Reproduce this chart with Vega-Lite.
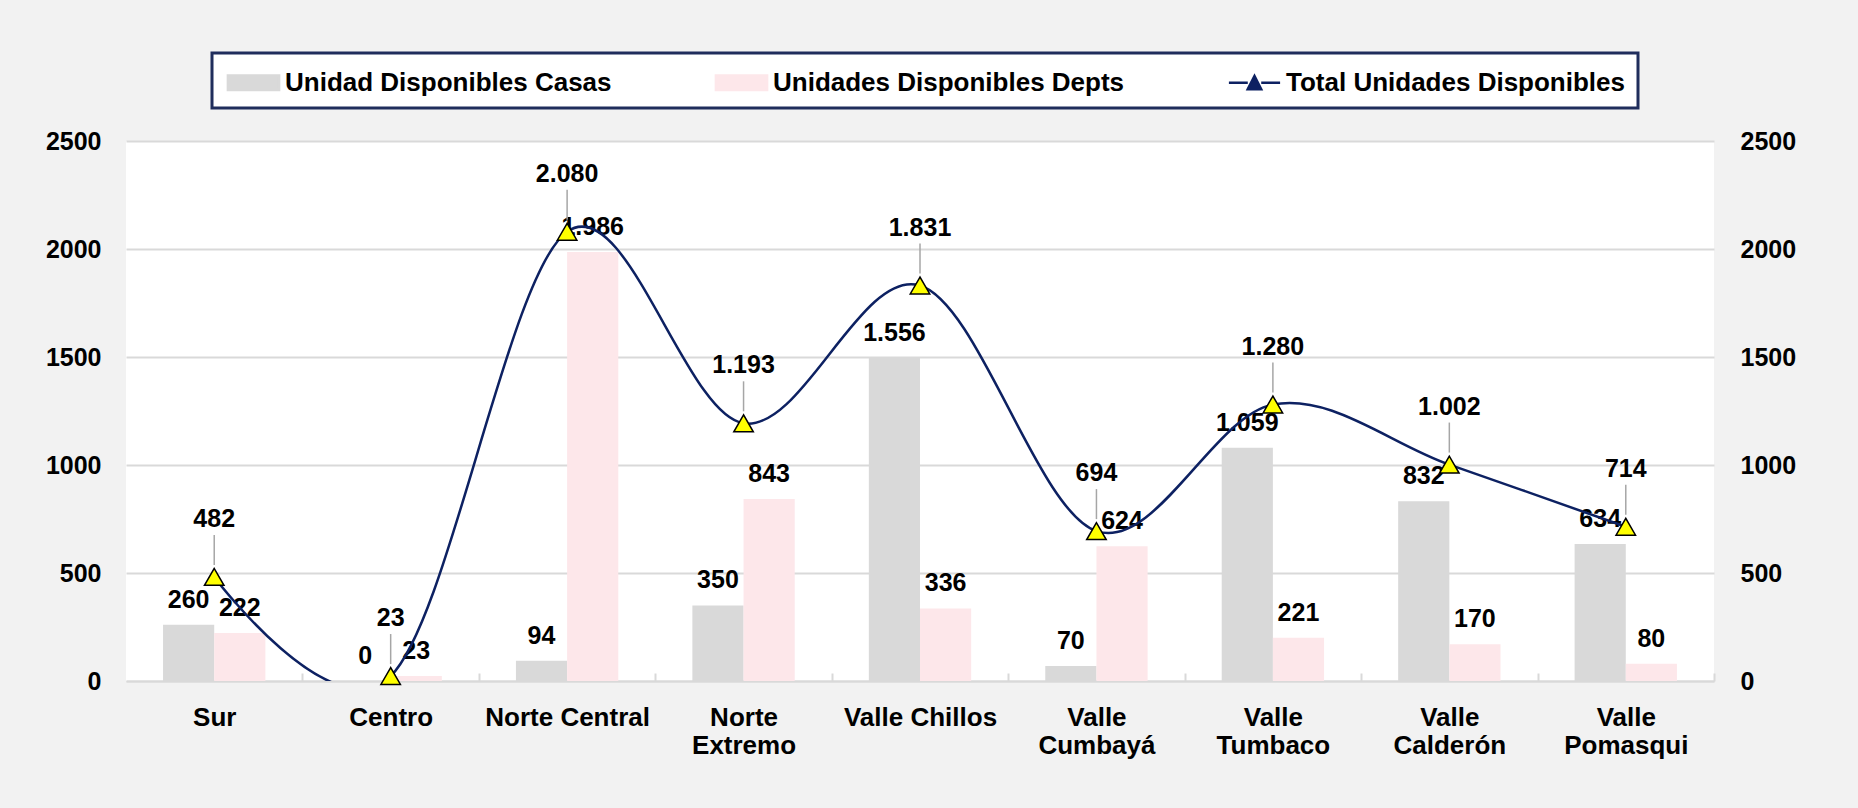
{
  "$schema": "https://vega.github.io/schema/vega-lite/v6.json",
  "width": 1588,
  "height": 540,
  "autosize": {"type": "none"},
  "padding": {"left": 126, "top": 141, "right": 144, "bottom": 127},
  "background": "#F2F2F2",
  "data": {
    "values": [
      {"region": "Sur", "series": "Unidad Disponibles Casas", "value": 260, "label": "260"},
      {"region": "Centro", "series": "Unidad Disponibles Casas", "value": 0, "label": "0"},
      {"region": "Norte Central", "series": "Unidad Disponibles Casas", "value": 94, "label": "94"},
      {"region": "Norte Extremo", "series": "Unidad Disponibles Casas", "value": 350, "label": "350"},
      {"region": "Valle Chillos", "series": "Unidad Disponibles Casas", "value": 1495, "label": "1.556"},
      {"region": "Valle Cumbayá", "series": "Unidad Disponibles Casas", "value": 70, "label": "70"},
      {"region": "Valle Tumbaco", "series": "Unidad Disponibles Casas", "value": 1080, "label": "1.059"},
      {"region": "Valle Calderón", "series": "Unidad Disponibles Casas", "value": 832, "label": "832"},
      {"region": "Valle Pomasqui", "series": "Unidad Disponibles Casas", "value": 634, "label": "634"},
      {"region": "Sur", "series": "Unidades Disponibles Depts", "value": 222, "label": "222"},
      {"region": "Centro", "series": "Unidades Disponibles Depts", "value": 23, "label": "23"},
      {"region": "Norte Central", "series": "Unidades Disponibles Depts", "value": 1986, "label": "1.986"},
      {"region": "Norte Extremo", "series": "Unidades Disponibles Depts", "value": 843, "label": "843"},
      {"region": "Valle Chillos", "series": "Unidades Disponibles Depts", "value": 336, "label": "336"},
      {"region": "Valle Cumbayá", "series": "Unidades Disponibles Depts", "value": 624, "label": "624"},
      {"region": "Valle Tumbaco", "series": "Unidades Disponibles Depts", "value": 200, "label": "221"},
      {"region": "Valle Calderón", "series": "Unidades Disponibles Depts", "value": 170, "label": "170"},
      {"region": "Valle Pomasqui", "series": "Unidades Disponibles Depts", "value": 80, "label": "80"},
      {"region": "Sur", "series": "Total Unidades Disponibles", "value": 482, "label": "482"},
      {"region": "Centro", "series": "Total Unidades Disponibles", "value": 23, "label": "23"},
      {"region": "Norte Central", "series": "Total Unidades Disponibles", "value": 2080, "label": "2.080"},
      {"region": "Norte Extremo", "series": "Total Unidades Disponibles", "value": 1193, "label": "1.193"},
      {"region": "Valle Chillos", "series": "Total Unidades Disponibles", "value": 1831, "label": "1.831"},
      {"region": "Valle Cumbayá", "series": "Total Unidades Disponibles", "value": 694, "label": "694"},
      {"region": "Valle Tumbaco", "series": "Total Unidades Disponibles", "value": 1280, "label": "1.280"},
      {"region": "Valle Calderón", "series": "Total Unidades Disponibles", "value": 1002, "label": "1.002"},
      {"region": "Valle Pomasqui", "series": "Total Unidades Disponibles", "value": 714, "label": "714"}
    ]
  },
  "layer": [
    {
      "transform": [{"filter": "datum.series !== 'Total Unidades Disponibles'"}],
      "mark": {"type": "bar"},
      "encoding": {
        "x": {
          "field": "region", "type": "nominal", "sort": null,
          "scale": {"paddingInner": 0.42, "paddingOuter": 0.21},
          "axis": {
            "title": null, "labelAngle": 0, "labelFontSize": 26,
            "domainColor": "#D9D9D9", "domainWidth": 2,
            "tickColor": "#D9D9D9", "tickWidth": 2, "tickOffset": 88.2, "tickSize": -8,
            "labelOffset": -88.2,
            "labelPadding": 31, "labelLineHeight": 28,
            "labelExpr": "indexof(['Norte Extremo','Valle Cumbayá','Valle Tumbaco','Valle Calderón','Valle Pomasqui'], datum.value) >= 0 ? split(datum.value, ' ') : datum.value"
          }
        },
        "xOffset": {
          "field": "series", "type": "nominal",
          "scale": {"domain": ["Unidad Disponibles Casas", "Unidades Disponibles Depts"], "paddingInner": 0, "paddingOuter": 0}
        },
        "y": {
          "field": "value", "type": "quantitative",
          "scale": {"domain": [0, 2500], "nice": false},
          "axis": {
            "orient": "left", "title": null, "values": [0, 500, 1000, 1500, 2000, 2500], "format": "d",
            "grid": true, "gridColor": "#D9D9D9", "gridWidth": 2,
            "domain": false, "ticks": false, "labelPadding": 25
          }
        },
        "color": {
          "field": "series", "type": "nominal",
          "scale": {
            "domain": ["Unidad Disponibles Casas", "Unidades Disponibles Depts", "Total Unidades Disponibles"],
            "range": ["#D9D9D9", "#FDE7EA", "#0D2162"]
          },
          "legend": {
            "orient": "none", "legendX": 86, "legendY": -88,
            "direction": "horizontal", "columns": 3, "title": null,
            "fillColor": "white", "strokeColor": "#1F2D5C",
            "padding": 12, "columnPadding": 98,
            "symbolSize": 1024, "symbolOffset": 12,
            "labelFont": "Liberation Sans", "labelFontWeight": "bold", "labelFontSize": 26, "labelColor": "black",
            "labelOffset": 14, "labelLimit": 600,
            "encode": {
              "legend": {"update": {"strokeWidth": {"value": 3}}},
              "symbols": {
                "update": {
                  "shape": {"signal": "datum.value === 'Total Unidades Disponibles' ? 'M-1.6,0L-0.42,0M0.42,0L1.6,0M-0.42,0.4L0,-0.42L0.42,0.4Z' : 'M-1.6,-0.45L1.6,-0.45L1.6,0.45L-1.6,0.45Z'"},
                  "fill": {"signal": "datum.value === 'Total Unidades Disponibles' ? '#FFFF00' : (datum.value === 'Unidad Disponibles Casas' ? '#D9D9D9' : '#FDE7EA')"},
                  "stroke": {"signal": "datum.value === 'Total Unidades Disponibles' ? '#0D2162' : 'transparent'"},
                  "strokeWidth": {"value": 2.5},
                  "opacity": {"value": 1},
                  "fillOpacity": {"value": 1}
                }
              }
            }
          }
        }
      }
    },
    {
      "transform": [{"filter": "datum.series !== 'Total Unidades Disponibles'"}],
      "mark": {"type": "text", "dy": -25, "baseline": "middle", "align": "center"},
      "encoding": {
        "x": {"field": "region", "type": "nominal", "sort": null},
        "xOffset": {"field": "series", "type": "nominal"},
        "y": {"field": "value", "type": "quantitative", "scale": {"domain": [0, 2500], "nice": false}, "axis": null},
        "text": {"field": "label"}
      }
    },
    {
      "transform": [{"filter": "datum.series === 'Total Unidades Disponibles'"}],
      "mark": {"type": "line", "interpolate": "cardinal", "strokeWidth": 2.5, "clip": true},
      "encoding": {
        "x": {"field": "region", "type": "nominal", "sort": null},
        "y": {
          "field": "value", "type": "quantitative",
          "scale": {"domain": [0, 2500], "nice": false},
          "axis": {
            "orient": "right", "title": null, "values": [0, 500, 1000, 1500, 2000, 2500], "format": "d",
            "grid": false, "domain": false, "ticks": false, "labelPadding": 26
          }
        },
        "color": {"field": "series", "type": "nominal"}
      }
    },
    {
      "transform": [{"filter": "datum.series === 'Total Unidades Disponibles'"}],
      "mark": {"type": "rule", "color": "#A6A6A6", "strokeWidth": 1.5, "yOffset": -12, "y2Offset": -42},
      "encoding": {
        "x": {"field": "region", "type": "nominal", "sort": null},
        "y": {"field": "value", "type": "quantitative", "scale": {"domain": [0, 2500], "nice": false}, "axis": null},
        "y2": {"field": "value"}
      }
    },
    {
      "transform": [{"filter": "datum.series === 'Total Unidades Disponibles'"}],
      "mark": {"type": "point", "shape": "triangle-up", "filled": true, "fill": "#FFFF00", "stroke": "black", "strokeWidth": 1.5, "size": 380, "opacity": 1},
      "encoding": {
        "x": {"field": "region", "type": "nominal", "sort": null},
        "y": {"field": "value", "type": "quantitative", "scale": {"domain": [0, 2500], "nice": false}, "axis": null}
      }
    },
    {
      "transform": [{"filter": "datum.series === 'Total Unidades Disponibles'"}],
      "mark": {"type": "text", "dy": -58, "baseline": "middle", "align": "center"},
      "encoding": {
        "x": {"field": "region", "type": "nominal", "sort": null},
        "y": {"field": "value", "type": "quantitative", "scale": {"domain": [0, 2500], "nice": false}, "axis": null},
        "text": {"field": "label"}
      }
    }
  ],
  "resolve": {"scale": {"y": "independent"}, "axis": {"y": "independent"}},
  "config": {
    "view": {"fill": "white", "stroke": null},
    "axis": {"labelFont": "Liberation Sans", "labelFontWeight": "bold", "labelFontSize": 25, "labelColor": "black"},
    "text": {"font": "Liberation Sans", "fontWeight": "bold", "fontSize": 25, "color": "black"}
  }
}
